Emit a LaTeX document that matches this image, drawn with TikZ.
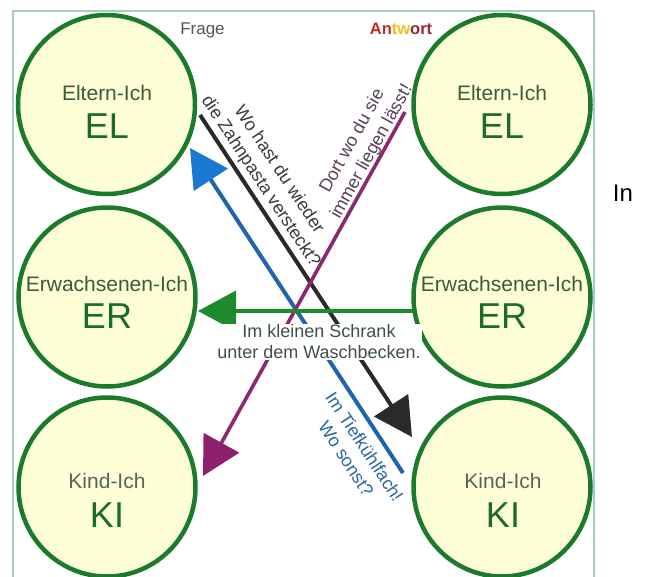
\documentclass[tikz,border=0pt]{standalone}
\usepackage{fontspec}
\setmainfont{Liberation Sans}
\usetikzlibrary{arrows.meta,shapes.geometric}

\definecolor{egoline}{HTML}{1B7A2B}
\definecolor{egofill}{HTML}{FEFED6}
\definecolor{egotext}{HTML}{3C5A3C}
\definecolor{kidtext}{HTML}{56665A}
\definecolor{bigtext}{HTML}{1D6B2C}
\definecolor{frame}{HTML}{A6CDBF}
\definecolor{qline}{HTML}{2A2A2A}
\definecolor{qtext}{HTML}{3A3A3A}
\definecolor{bline}{HTML}{2064AC}
\definecolor{btip}{HTML}{1A78D2}
\definecolor{btext}{HTML}{2A66A4}
\definecolor{pline}{HTML}{8A2A6E}
\definecolor{ptip}{HTML}{8C1F6E}
\definecolor{ptext}{HTML}{5A405A}
\definecolor{gline}{HTML}{1E8A2E}
\definecolor{gtext}{HTML}{3F4F4F}
\definecolor{headgray}{HTML}{4D5A4D}
\definecolor{antred}{HTML}{C02A2A}
\definecolor{antyel}{HTML}{E8C31E}
\definecolor{antdark}{HTML}{962A2E}

\begin{document}
\begin{tikzpicture}[x=1pt,y=-1pt,
  ego/.style={ellipse, draw=egoline, fill=egofill, line width=4.5pt,
    minimum width=177pt, minimum height=179pt, inner sep=0pt},
  egoname/.style={anchor=base, text=egotext, font=\fontsize{21}{24}\selectfont},
  egoshort/.style={anchor=base, text=bigtext, font=\fontsize{36}{40}\selectfont},
  msg/.style={line width=4pt},
  head/.style={-{Triangle[length=38pt,width=40pt]}},
  saying/.style={anchor=center, align=center, inner sep=0pt,
    font=\fontsize{18}{22}\selectfont}
]
\useasboundingbox (0,0) rectangle (648,576);
\fill[white] (0,0) rectangle (648,576);

% frame around the diagram (open at the bottom edge)
\draw[frame, line width=1.5pt] (13,580) -- (13,11) -- (594,11) -- (594,580);

% the six ego states
\node[ego] (elL) at (106.5,104.5) {};
\node[ego] (erL) at (107,297) {};
\node[ego] (kiL) at (107,487) {};
\node[ego] (elR) at (502,104.5) {};
\node[ego] (erR) at (502,297) {};
\node[ego] (kiR) at (502,487) {};

\node[egoname] (elLt) at (107,100) {Eltern-Ich};
\node[egoshort] (elLs) at (107,138.5) {EL};
\node[egoname] (erLt) at (107,291) {Erwachsenen-Ich};
\node[egoshort] (erLs) at (107,328) {ER};
\node[egoname, text=kidtext] (kiLt) at (107,488) {Kind-Ich};
\node[egoshort] (kiLs) at (107,527) {KI};

\node[egoname] (elRt) at (502,100) {Eltern-Ich};
\node[egoshort] (elRs) at (502,138.5) {EL};
\node[egoname] (erRt) at (502,291) {Erwachsenen-Ich};
\node[egoshort] (erRs) at (502,328) {ER};
\node[egoname, text=kidtext] (kiRt) at (503,488) {Kind-Ich};
\node[egoshort] (kiRs) at (503,527) {KI};

% column headings
\node[anchor=base, text=headgray, font=\fontsize{17}{20}\selectfont] (frage) at (202.5,34) {Frage};
\node[anchor=base, font=\bfseries\fontsize{16.5}{20}\selectfont] (antwort) at (401,34)
  {\textcolor{antred}{An}\textcolor{antyel}{tw}\textcolor{antdark}{ort}};

% end points of the messages
\coordinate (blkA) at (200,115);
\coordinate (blkB) at (412,437);
\coordinate (bluA) at (403,473);
\coordinate (bluB) at (190,148);
\coordinate (purA) at (405,112);
\coordinate (purB) at (203,476);
\coordinate (grnA) at (413,311);
\coordinate (grnB) at (198,311);

% messages between the ego states
\draw[msg, qline, head] (blkA) -- (blkB);
\draw[msg, bline, -{Triangle[length=38pt,width=40pt,color=btip]}] (bluA) -- (bluB);
\draw[msg, pline, line width=3.6pt, -{Triangle[length=38pt,width=40pt,color=ptip]}] (purA) -- (purB);
\draw[msg, gline, head] (grnA) -- (grnB);

% what is said along each message
\node[saying, text=qtext, rotate=-56.6] (qtalk) at (269.5,175.8)
  {Wo hast du wieder\\die Zahnpasta versteckt?};
\node[saying, text=ptext, rotate=61] (ptalk) at (362.2,146.6)
  {Dort wo du sie\\immer liegen lässt!};
\node[saying, text=btext, rotate=-56.8] (btalk) at (355.5,452.8)
  {Im Tiefkühlfach!\\Wo sonst?};
\node[fill=white, align=center, text=gtext, inner xsep=1pt, inner ysep=1pt,
  font=\fontsize{18}{21}\selectfont] (gtalk) at (319,342)
  {Im kleinen Schrank\\unter dem Waschbecken.};

% text beside the frame
\node[anchor=base, font=\fontsize{24}{28}\selectfont] (inword) at (623,201) {In};
\end{tikzpicture}
\end{document}
